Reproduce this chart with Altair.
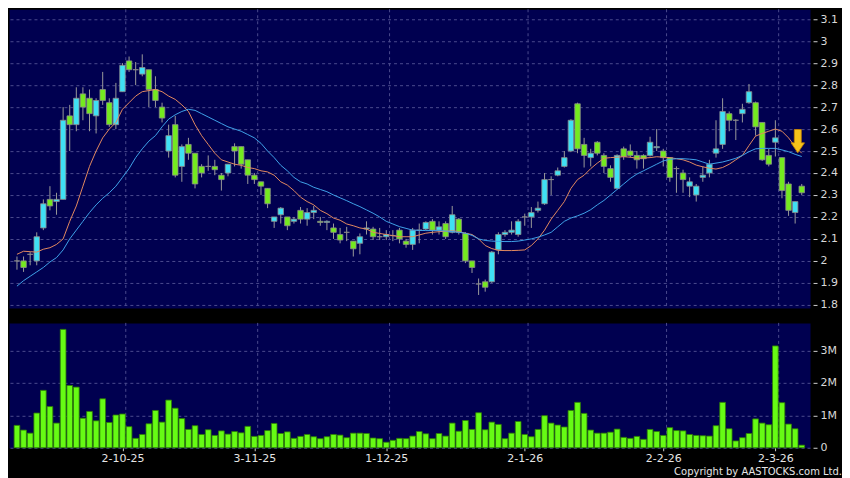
import altair as alt
import pandas as pd

# ---------------- data ----------------
open_ = [2.00, 2.00, 2.03, 2.00, 2.15, 2.28, 2.27, 2.28, 2.66, 2.62,
         2.76, 2.74, 2.66, 2.78, 2.72, 2.62, 2.77, 2.91, 2.87, 2.85,
         2.87, 2.78, 2.70, 2.50, 2.62, 2.43, 2.53, 2.49, 2.43, 2.43,
         2.43, 2.39, 2.40, 2.52, 2.52, 2.46, 2.39, 2.36, 2.33, 2.18,
         2.21, 2.20, 2.18, 2.23, 2.19, 2.22, 2.18, 2.175, 2.15, 2.12,
         2.13, 2.09, 2.08, 2.145, 2.145, 2.11, 2.11, 2.115, 2.14, 2.09,
         2.075, 2.14, 2.145, 2.18, 2.14, 2.17, 2.13, 2.19, 2.125, 2.00,
         1.895, 1.905, 1.905, 2.05, 2.12, 2.13, 2.12, 2.20, 2.20, 2.23,
         2.26, 2.37, 2.39, 2.43, 2.50, 2.715, 2.53, 2.47, 2.54, 2.48,
         2.42, 2.33, 2.51, 2.50, 2.48, 2.48, 2.48, 2.515, 2.50, 2.47,
         2.42, 2.40, 2.34, 2.30, 2.38, 2.40, 2.49, 2.53, 2.67, 2.64,
         2.67, 2.72, 2.72, 2.63, 2.48, 2.54, 2.47, 2.35, 2.22, 2.34]
high = [2.02, 2.02, 2.04, 2.13, 2.28, 2.34, 2.31, 2.70, 2.71, 2.79,
        2.79, 2.78, 2.74, 2.86, 2.74, 2.81, 2.90, 2.93, 2.905, 2.94,
        2.87, 2.84, 2.72, 2.62, 2.66, 2.53, 2.56, 2.49, 2.44, 2.48,
        2.46, 2.40, 2.44, 2.535, 2.52, 2.46, 2.40, 2.36, 2.33, 2.20,
        2.245, 2.20, 2.20, 2.245, 2.24, 2.25, 2.20, 2.185, 2.17, 2.15,
        2.155, 2.09, 2.125, 2.18, 2.155, 2.15, 2.14, 2.14, 2.15, 2.10,
        2.15, 2.17, 2.18, 2.19, 2.18, 2.18, 2.25, 2.195, 2.13, 2.00,
        1.92, 1.915, 2.045, 2.13, 2.14, 2.18, 2.19, 2.215, 2.245, 2.27,
        2.40, 2.385, 2.425, 2.50, 2.645, 2.72, 2.56, 2.51, 2.545, 2.49,
        2.435, 2.485, 2.52, 2.53, 2.50, 2.485, 2.565, 2.60, 2.51, 2.47,
        2.43, 2.415, 2.38, 2.35, 2.43, 2.46, 2.64, 2.74, 2.68, 2.645,
        2.715, 2.805, 2.725, 2.63, 2.51, 2.64, 2.47, 2.36, 2.27, 2.35]
low = [1.96, 1.95, 1.98, 1.98, 2.14, 2.23, 2.21, 2.28, 2.50, 2.59,
       2.64, 2.59, 2.58, 2.71, 2.61, 2.60, 2.77, 2.86, 2.80, 2.84,
       2.70, 2.70, 2.63, 2.47, 2.38, 2.36, 2.46, 2.33, 2.38, 2.41,
       2.39, 2.32, 2.385, 2.43, 2.42, 2.35, 2.35, 2.30, 2.24, 2.15,
       2.17, 2.14, 2.17, 2.17, 2.16, 2.19, 2.16, 2.14, 2.10, 2.08,
       2.09, 2.02, 2.03, 2.12, 2.095, 2.095, 2.095, 2.09, 2.08, 2.06,
       2.05, 2.08, 2.14, 2.12, 2.12, 2.10, 2.125, 2.12, 1.99, 1.945,
       1.845, 1.86, 1.90, 2.03, 2.11, 2.12, 2.11, 2.16, 2.15, 2.22,
       2.255, 2.30, 2.385, 2.425, 2.495, 2.49, 2.425, 2.43, 2.48, 2.40,
       2.36, 2.325, 2.46, 2.47, 2.42, 2.42, 2.475, 2.50, 2.43, 2.36,
       2.31, 2.31, 2.29, 2.27, 2.36, 2.38, 2.47, 2.51, 2.59, 2.55,
       2.63, 2.715, 2.57, 2.455, 2.43, 2.475, 2.285, 2.205, 2.17, 2.30]
close = [2.00, 1.97, 2.03, 2.11, 2.26, 2.25, 2.28, 2.64, 2.62, 2.74,
         2.70, 2.67, 2.73, 2.73, 2.62, 2.74, 2.89, 2.87, 2.87, 2.88,
         2.78, 2.73, 2.65, 2.57, 2.39, 2.52, 2.49, 2.35, 2.40, 2.43,
         2.415, 2.37, 2.44, 2.50, 2.44, 2.39, 2.37, 2.34, 2.26, 2.20,
         2.24, 2.16, 2.19, 2.19, 2.22, 2.23, 2.175, 2.18, 2.13, 2.095,
         2.13, 2.055, 2.11, 2.15, 2.11, 2.11, 2.12, 2.115, 2.10, 2.075,
         2.14, 2.14, 2.175, 2.14, 2.155, 2.11, 2.21, 2.13, 2.00, 1.97,
         1.895, 1.88, 2.04, 2.12, 2.13, 2.14, 2.18, 2.20, 2.22, 2.24,
         2.37, 2.37, 2.41, 2.47, 2.64, 2.51, 2.48, 2.49, 2.49, 2.43,
         2.38, 2.48, 2.475, 2.48, 2.46, 2.465, 2.54, 2.52, 2.47, 2.38,
         2.42, 2.37, 2.36, 2.34, 2.39, 2.44, 2.51, 2.68, 2.64, 2.64,
         2.69, 2.77, 2.61, 2.46, 2.44, 2.56, 2.32, 2.23, 2.27, 2.31]
volume_m = [0.69, 0.545, 0.45, 1.07, 1.77, 1.27, 0.76, 3.65, 1.92, 1.87,
            0.91, 1.12, 0.83, 1.51, 0.78, 1.01, 1.04, 0.65, 0.29, 0.41,
            0.74, 1.15, 0.79, 1.47, 1.22, 0.90, 0.565, 0.68, 0.41, 0.555,
            0.38, 0.52, 0.42, 0.50, 0.46, 0.66, 0.35, 0.38, 0.53, 0.75,
            0.44, 0.49, 0.29, 0.35, 0.41, 0.34, 0.28, 0.34, 0.41, 0.39,
            0.31, 0.45, 0.45, 0.44, 0.30, 0.28, 0.17, 0.23, 0.29, 0.28,
            0.36, 0.50, 0.43, 0.28, 0.44, 0.36, 0.76, 0.51, 0.84, 0.565,
            1.08, 0.555, 0.79, 0.72, 0.28, 0.45, 0.81, 0.41, 0.34, 0.565,
            0.99, 0.76, 0.70, 0.64, 1.15, 1.40, 1.06, 0.545, 0.45, 0.45,
            0.48, 0.575, 0.32, 0.29, 0.35, 0.26, 0.565, 0.50, 0.38, 0.62,
            0.53, 0.52, 0.41, 0.38, 0.37, 0.36, 0.68, 1.40, 0.585, 0.21,
            0.31, 0.44, 0.89, 0.76, 0.71, 3.14, 1.39, 0.73, 0.585, 0.08]
ma10 = [2.03, 2.044, 2.042, 2.04, 2.053, 2.06, 2.075, 2.10, 2.18, 2.25,
        2.34, 2.43, 2.50, 2.56, 2.60, 2.63, 2.69, 2.72, 2.75, 2.77,
        2.775, 2.78, 2.77, 2.75, 2.735, 2.71, 2.68, 2.62, 2.57, 2.53,
        2.49, 2.46, 2.45, 2.44, 2.435, 2.425, 2.42, 2.41, 2.405, 2.39,
        2.36, 2.345, 2.32, 2.29, 2.27, 2.255, 2.23, 2.215, 2.195, 2.185,
        2.168, 2.16, 2.15, 2.145, 2.13, 2.125, 2.12, 2.115, 2.11, 2.11,
        2.11, 2.118, 2.126, 2.13, 2.133, 2.135, 2.137, 2.133, 2.126, 2.12,
        2.10, 2.07, 2.056, 2.048, 2.047, 2.047, 2.048, 2.05, 2.07, 2.10,
        2.14, 2.19, 2.23, 2.27, 2.33, 2.37, 2.39, 2.42, 2.445, 2.467,
        2.47, 2.472, 2.474, 2.472, 2.467, 2.468, 2.47, 2.474, 2.472, 2.47,
        2.465, 2.46, 2.45, 2.436, 2.428, 2.422, 2.418, 2.425, 2.44, 2.46,
        2.48, 2.525, 2.568, 2.58, 2.59, 2.60, 2.59, 2.56, 2.52, 2.49]
ma20 = [1.885, 1.91, 1.93, 1.95, 1.97, 1.995, 2.015, 2.05, 2.10, 2.14,
        2.18, 2.22, 2.255, 2.285, 2.31, 2.34, 2.38, 2.42, 2.47, 2.51,
        2.545, 2.57, 2.61, 2.645, 2.665, 2.68, 2.69, 2.685, 2.67, 2.655,
        2.64, 2.625, 2.61, 2.60, 2.59, 2.575, 2.56, 2.535, 2.50, 2.47,
        2.435, 2.41, 2.38, 2.36, 2.35, 2.335, 2.325, 2.315, 2.30, 2.287,
        2.274, 2.26, 2.247, 2.232, 2.217, 2.20, 2.18, 2.168, 2.156, 2.148,
        2.14, 2.139, 2.138, 2.138, 2.138, 2.136, 2.133, 2.13, 2.126, 2.116,
        2.10, 2.093, 2.09, 2.089, 2.088, 2.088, 2.09, 2.095, 2.10, 2.108,
        2.118, 2.13, 2.155, 2.18, 2.195, 2.205, 2.217, 2.233, 2.255, 2.275,
        2.30, 2.325, 2.35, 2.375, 2.395, 2.41, 2.425, 2.44, 2.455, 2.462,
        2.465, 2.465, 2.463, 2.46, 2.45, 2.44, 2.445, 2.45, 2.458, 2.467,
        2.48, 2.497, 2.51, 2.512, 2.512, 2.512, 2.505, 2.497, 2.485, 2.475]

tick_idx = [16, 36, 56, 77, 98, 115]
tick_labels = ["2-10-25", "3-11-25", "1-12-25", "2-1-26", "2-2-26", "2-3-26"]
price_ticks = [1.8, 1.9, 2.0, 2.1, 2.2, 2.3, 2.4, 2.5, 2.6, 2.7, 2.8, 2.9, 3.0, 3.1]
vol_ticks = [0, 1, 2, 3]
arrow_idx = [118.4]
arrow_price = [2.545]

# ---------------- tables ----------------
n = len(close)
df = pd.DataFrame({"i": list(range(n)), "open": open_, "high": high, "low": low,
                   "close": close, "vol": volume_m, "ma10": ma10, "ma20": ma20})
df["dir"] = ["up" if c > o else ("down" if c < o else "flat") for o, c in zip(open_, close)]
grid_df = pd.DataFrame({"g": [t + 0.5 for t in tick_idx]})
arrow_df = pd.DataFrame({"i": arrow_idx, "p": arrow_price})

FONT = "DejaVu Sans"
GRID = "#4a4a8e"
W = 802

xs = alt.Scale(domain=[-0.45, 119.5], nice=False, zero=False)
ys = alt.Scale(domain=[1.786, 3.145], nice=False, zero=False)
vs = alt.Scale(domain=[0, 3.85], nice=False, zero=False)

price_axis = alt.Axis(orient="right", values=price_ticks, format="~g", title=None,
                      grid=True, gridColor=GRID, gridDash=[3, 3], gridWidth=1,
                      domain=False, ticks=True, tickColor="#cfcfcf", tickSize=4,
                      labelColor="#d8d8d8", labelFont=FONT, labelFontSize=11,
                      labelPadding=3, offset=3)
vol_axis = alt.Axis(orient="right", values=vol_ticks,
                    labelExpr="datum.value == 0 ? '0' : datum.value + 'M'", title=None,
                    grid=True, gridColor=GRID, gridDash=[3, 3], gridWidth=1,
                    domain=False, ticks=True, tickColor="#cfcfcf", tickSize=4,
                    labelColor="#d8d8d8", labelFont=FONT, labelFontSize=11,
                    labelPadding=3, offset=3)
lab_expr = "[" + ",".join("'%s'" % s for s in tick_labels) + "][indexof([" + \
           ",".join(str(t) for t in tick_idx) + "], datum.value)]"
x_axis = alt.Axis(values=tick_idx, labelExpr=lab_expr, title=None, grid=False,
                  domain=False, ticks=True, tickColor="#cfcfcf", tickSize=3,
                  labelColor="#e6e6e6", labelFont=FONT, labelFontSize=11,
                  labelPadding=2, offset=0)

vgrid_price = alt.Chart(grid_df).mark_rule(color=GRID, strokeDash=[3, 3], strokeWidth=1).encode(
    x=alt.X("g:Q", scale=xs, axis=None))
vgrid_vol = alt.Chart(grid_df).mark_rule(color=GRID, strokeDash=[3, 3], strokeWidth=1).encode(
    x=alt.X("g:Q", scale=xs, axis=x_axis))

base = alt.Chart(df)
wick = base.mark_rule(color="#9a9a9a", strokeWidth=1).encode(
    x=alt.X("i:Q", scale=xs, axis=None),
    y=alt.Y("low:Q", scale=ys, axis=price_axis), y2="high:Q")
body = base.mark_bar(size=5.5, stroke="#8c8c8c", strokeWidth=0.8).encode(
    x=alt.X("i:Q", scale=xs, axis=None),
    y=alt.Y("open:Q", scale=ys, axis=price_axis), y2="close:Q",
    color=alt.Color("dir:N", legend=None,
                    scale=alt.Scale(domain=["up", "down", "flat"],
                                    range=["#3fe0f4", "#74ea1f", "#9aa6b0"])))
line10 = base.mark_line(color="#e2895f", strokeWidth=1).encode(
    x=alt.X("i:Q", scale=xs, axis=None), y=alt.Y("ma10:Q", scale=ys, axis=price_axis))
line20 = base.mark_line(color="#3fa2e8", strokeWidth=1).encode(
    x=alt.X("i:Q", scale=xs, axis=None), y=alt.Y("ma20:Q", scale=ys, axis=price_axis))
arrow_path = "M-0.3,-1 L0.3,-1 L0.3,0.15 L0.58,0.15 L0,1 L-0.58,0.15 L-0.3,0.15 Z"
arrow = alt.Chart(arrow_df).mark_point(shape=arrow_path, size=540, filled=True,
                                       fill="#f7c21a", stroke="#c88400",
                                       strokeWidth=0.8, opacity=1).encode(
    x=alt.X("i:Q", scale=xs, axis=None), y=alt.Y("p:Q", scale=ys, axis=price_axis))

price = alt.layer(vgrid_price, wick, body, line10, line20, arrow).properties(width=W, height=299)

vbars = base.mark_bar(size=5.7, color="#66fb14", stroke="#2e7d05", strokeWidth=0.8).encode(
    x=alt.X("i:Q", scale=xs, axis=x_axis),
    y=alt.Y("vol:Q", scale=vs, axis=vol_axis))
volume = alt.layer(vgrid_vol, vbars).properties(width=W, height=125)

chart = alt.vconcat(price, volume, spacing=11).properties(
    background="#000000",
    padding={"left": 0, "top": 0, "right": 0, "bottom": 0},
    title=alt.TitleParams("Copyright by AASTOCKS.com Ltd.", orient="bottom", anchor="end",
                          frame="bounds", fontSize=10, font=FONT, fontWeight="normal",
                          color="#e6e6e6", offset=3, dx=4),
).configure_view(fill="#000050", stroke="transparent")

chart.save("out.html", embed_options={"renderer": "svg", "actions": False})
